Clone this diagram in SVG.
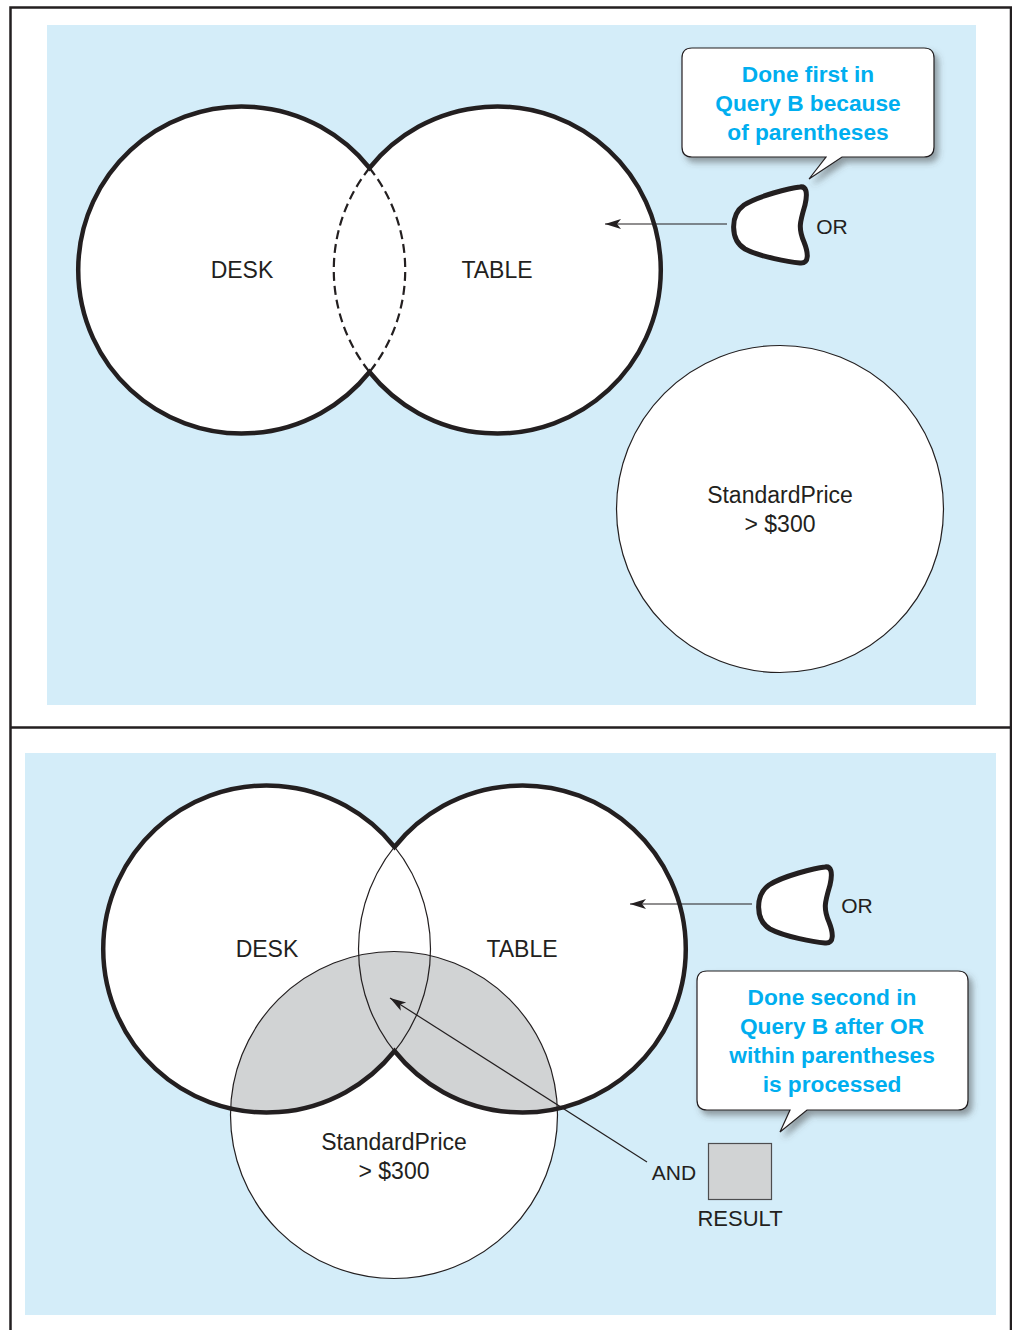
<svg xmlns="http://www.w3.org/2000/svg" width="1012" height="1330" viewBox="0 0 1012 1330">
<style>
.bg{fill:#d4edf9}
.frame{stroke:#231f20;stroke-width:2.5;fill:none}
.thick{fill:none;stroke:#231f20;stroke-width:4.5}
.thin{fill:none;stroke:#231f20;stroke-width:1.2}
.wfill{fill:#fff;stroke:none}
.lbl{font-family:"Liberation Sans",Arial,sans-serif;font-size:23px;fill:#231f20;text-anchor:middle}
.call{font-family:"Liberation Sans",Arial,sans-serif;font-size:22.7px;font-weight:bold;fill:#00aeef;text-anchor:middle}
.bubble{fill:#fff;stroke:#231f20;stroke-width:1.2;filter:url(#sh)}
.blob{fill:#fff;stroke:#231f20;stroke-width:5;stroke-linejoin:round}
.conn{fill:none;stroke:#231f20;stroke-width:1.2}
</style>
<defs>
<filter id="sh" x="-10%" y="-10%" width="130%" height="140%">
<feDropShadow dx="4" dy="5" stdDeviation="3" flood-color="#444" flood-opacity="0.5"/>
</filter>
<marker id="arr" markerUnits="userSpaceOnUse" markerWidth="18" markerHeight="12" refX="16" refY="6" orient="auto">
<path d="M0,1 L16,6 L0,11 L4,6 Z" fill="#231f20"/>
</marker>
<clipPath id="priceClip"><circle cx="394" cy="1115" r="163.5"/></clipPath>
<path id="blobShape" d="M 800 187 C 790 188 758 196 744 205 C 730 215 730 240 745 249 C 760 257 790 262 800 263 C 810 264 808 252 804 242 C 798 228 800 222 805 205 C 808 192 806 186 800 187 Z"/>
</defs>

<g id="frame">
<rect class="bg" x="47" y="25" width="929" height="680"/>
<rect class="bg" x="25" y="753" width="971" height="562"/>
<path class="frame" d="M 10.5 1330 V 7.5 H 1012 M 1011 7.5 V 1330 M 10.5 727.5 H 1012"/>
</g>

<!-- top panel -->
<g id="top-desk">
<circle class="wfill" cx="242" cy="270" r="163.5"/>
</g>
<g id="top-table">
<circle class="wfill" cx="497" cy="270" r="163.5"/>
<path class="thick" d="M 369.5 168 A 163.5 163.5 0 1 0 369.5 372 A 163.5 163.5 0 1 0 369.5 168 Z"/>
<path fill="none" stroke="#231f20" stroke-width="2.2" stroke-dasharray="9 5" d="M 369.5 168 A 163.5 163.5 0 0 1 369.5 372 M 369.5 168 A 163.5 163.5 0 0 0 369.5 372"/>
<text class="lbl" x="242" y="278">DESK</text>
<text class="lbl" x="497" y="278">TABLE</text>
</g>
<g id="top-price">
<circle fill="#fff" stroke="#231f20" stroke-width="1.2" cx="780" cy="509" r="163.5"/>
<text class="lbl" x="780" y="503">StandardPrice</text>
<text class="lbl" x="780" y="532">&gt; $300</text>
</g>
<g id="top-or">
<use href="#blobShape" class="blob"/>
<text class="lbl" x="832" y="234" style="font-size:21px">OR</text>
</g>
<g id="top-callout">
<path class="bubble" d="M 692 48 H 924 Q 934 48 934 58 V 147 Q 934 157 924 157 H 842 L 809 179 L 826 157 H 692 Q 682 157 682 147 V 58 Q 682 48 692 48 Z"/>
<text class="call" x="808" y="82">Done first in</text>
<text class="call" x="808" y="111">Query B because</text>
<text class="call" x="808" y="140">of parentheses</text>
</g>

<!-- bottom panel -->
<g id="bottom-price">
<circle fill="#fff" cx="394" cy="1115" r="163.5"/>
</g>
<g id="bottom-desk">
<circle class="wfill" cx="267" cy="949" r="163.5"/>
</g>
<g id="bottom-table">
<circle class="wfill" cx="522" cy="949" r="163.5"/>
</g>
<g id="bottom-overlap" clip-path="url(#priceClip)">
<circle fill="#d1d3d4" cx="267" cy="949" r="163.5"/>
<circle fill="#d1d3d4" cx="522" cy="949" r="163.5"/>
</g>
<g id="bottom-outlines">
<circle class="thin" cx="267" cy="949" r="163.5"/>
<circle class="thin" cx="522" cy="949" r="163.5"/>
<circle class="thin" cx="394" cy="1115" r="163.5"/>
<path class="thick" d="M 394.5 847 A 163.5 163.5 0 1 0 394.5 1051 A 163.5 163.5 0 1 0 394.5 847 Z"/>
<text class="lbl" x="267" y="957">DESK</text>
<text class="lbl" x="522" y="957">TABLE</text>
<text class="lbl" x="394" y="1150">StandardPrice</text>
<text class="lbl" x="394" y="1179">&gt; $300</text>
</g>
<g id="bottom-or">
<use href="#blobShape" class="blob" transform="translate(25,680)"/>
<text class="lbl" x="857" y="913" style="font-size:21px">OR</text>
</g>
<g id="bottom-callout">
<path class="bubble" d="M 707 971 H 958 Q 968 971 968 981 V 1100 Q 968 1110 958 1110 H 807 L 780 1132 L 790 1110 H 707 Q 697 1110 697 1100 V 981 Q 697 971 707 971 Z"/>
<text class="call" x="832" y="1005">Done second in</text>
<text class="call" x="832" y="1034">Query B after OR</text>
<text class="call" x="832" y="1063">within parentheses</text>
<text class="call" x="832" y="1092">is processed</text>
</g>
<g id="result">
<rect x="708.5" y="1143.5" width="63" height="56" fill="#d1d3d4" stroke="#4d4d4f" stroke-width="1.2"/>
<text class="lbl" x="740" y="1226" style="font-size:22px">RESULT</text>
<text class="lbl" x="674" y="1180" style="font-size:21px">AND</text>
</g>

<g id="connectors">
<line class="conn" x1="727" y1="224" x2="605" y2="224" marker-end="url(#arr)"/>
<line class="conn" x1="752" y1="904" x2="630" y2="904" marker-end="url(#arr)"/>
<line class="conn" x1="647" y1="1162" x2="390" y2="998" marker-end="url(#arr)"/>
</g>
</svg>
